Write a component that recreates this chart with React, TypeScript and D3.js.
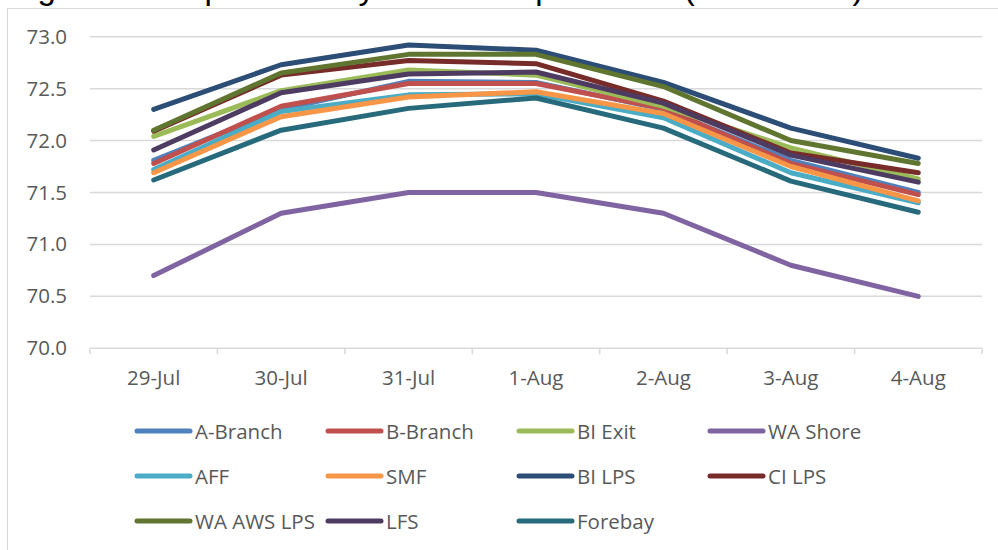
import React, { useEffect, useRef } from "react";
import * as d3 from "d3";

// categories on the x axis
const dates = ["29-Jul", "30-Jul", "31-Jul", "1-Aug", "2-Aug", "3-Aug", "4-Aug"];

// series values (deg F)
const aBranch = [71.81, 72.3, 72.57, 72.56, 72.3, 71.81, 71.5];
const bBranch = [71.78, 72.33, 72.55, 72.55, 72.31, 71.78, 71.48];
const biExit = [72.04, 72.48, 72.68, 72.63, 72.33, 71.93, 71.63];
const waShore = [70.7, 71.3, 71.5, 71.5, 71.3, 70.8, 70.5];
const aff = [71.72, 72.28, 72.44, 72.45, 72.22, 71.69, 71.4];
const smf = [71.69, 72.23, 72.42, 72.47, 72.26, 71.75, 71.42];
const biLps = [72.3, 72.73, 72.92, 72.87, 72.56, 72.12, 71.83];
const ciLps = [72.09, 72.63, 72.77, 72.74, 72.38, 71.88, 71.69];
const waAwsLps = [72.1, 72.65, 72.83, 72.83, 72.52, 72.0, 71.78];
const lfs = [71.91, 72.46, 72.64, 72.66, 72.36, 71.86, 71.6];
const forebay = [71.62, 72.1, 72.31, 72.41, 72.12, 71.61, 71.31];

const seriesNames = [
  "A-Branch", "B-Branch", "BI Exit", "WA Shore", "AFF", "SMF",
  "BI LPS", "CI LPS", "WA AWS LPS", "LFS", "Forebay",
];
const seriesValues = [
  aBranch, bBranch, biExit, waShore, aff, smf,
  biLps, ciLps, waAwsLps, lfs, forebay,
];
const seriesColors = [
  "#4f81bd", "#c0504d", "#9bbb59", "#8064a2", "#4bacc6", "#f79646",
  "#2c4d75", "#772c2a", "#5f7530", "#4d3b62", "#276a7c",
];

const yTicks = [70.0, 70.5, 71.0, 71.5, 72.0, 72.5, 73.0];

const FONT = "'Open Sans', 'Noto Sans', sans-serif";
const TEXT_COLOR = "#595959";
const GRID_COLOR = "#d9d9d9";

export default function App() {
  const svgRef = useRef<SVGSVGElement>(null);

  useEffect(() => {
    const svg = d3.select(svgRef.current);
    svg.selectAll("*").remove();

    const width = 998;
    const height = 550;
    const plot = { left: 90, right: 982, top: 36.7, bottom: 348.3 };

    // cut-off caption above the chart frame
    svg.append("text")
      .attr("x", 10)
      .attr("y", -1)
      .style("font-family", "'Liberation Sans', Arial, sans-serif")
      .style("font-size", "33px")
      .attr("fill", "#000")
      .text("Figure 4. Graph of 7-Day Water temperatures (Fahrenheit)");

    // chart frame
    svg.append("rect")
      .attr("x", 7.5)
      .attr("y", 8.5)
      .attr("width", width + 20)
      .attr("height", height + 20)
      .attr("fill", "#fff")
      .attr("stroke", GRID_COLOR)
      .attr("stroke-width", 1);

    const x = d3.scaleBand()
      .domain(dates)
      .range([plot.left, plot.right]);

    const y = d3.scaleLinear()
      .domain([70, 73])
      .range([plot.bottom, plot.top]);

    const xc = (d: string) => (x(d) as number) + x.bandwidth() / 2;

    // gridlines
    svg.append("g")
      .selectAll("line")
      .data(yTicks.slice(1))
      .enter()
      .append("line")
      .attr("x1", plot.left)
      .attr("x2", plot.right)
      .attr("y1", d => y(d))
      .attr("y2", d => y(d))
      .attr("stroke", GRID_COLOR)
      .attr("stroke-width", 1.5);

    // y labels
    svg.append("g")
      .selectAll("text")
      .data(yTicks)
      .enter()
      .append("text")
      .attr("x", 67)
      .attr("y", d => y(d) + 7)
      .attr("text-anchor", "end")
      .style("font-family", FONT)
      .style("font-size", "20.5px")
      .attr("fill", TEXT_COLOR)
      .text(d => d.toFixed(1));

    // x axis
    const xAxis = d3.axisBottom(x).tickSize(0).tickPadding(0);
    const xAxisGroup = svg.append("g")
      .attr("transform", `translate(0,${plot.bottom})`)
      .call(xAxis);
    xAxisGroup.select(".domain").remove();
    xAxisGroup.selectAll("text")
      .attr("y", 37)
      .attr("dy", null)
      .style("font-family", FONT)
      .style("font-size", "20.5px")
      .attr("fill", TEXT_COLOR);

    svg.append("line")
      .attr("x1", plot.left)
      .attr("x2", plot.right)
      .attr("y1", plot.bottom)
      .attr("y2", plot.bottom)
      .attr("stroke", GRID_COLOR)
      .attr("stroke-width", 1.5);

    const edges = [...dates.map(d => x(d) as number), plot.right];
    svg.append("g")
      .selectAll("line")
      .data(edges)
      .enter()
      .append("line")
      .attr("x1", d => d)
      .attr("x2", d => d)
      .attr("y1", plot.bottom)
      .attr("y2", plot.bottom + 6)
      .attr("stroke", GRID_COLOR)
      .attr("stroke-width", 1.5);

    // lines
    const line = d3.line<number>()
      .x((d, i) => xc(dates[i]))
      .y(d => y(d));

    svg.append("g")
      .selectAll("path")
      .data(seriesValues)
      .enter()
      .append("path")
      .attr("d", d => line(d))
      .attr("fill", "none")
      .attr("stroke", (d, i) => seriesColors[i])
      .attr("stroke-width", 5)
      .attr("stroke-linecap", "round")
      .attr("stroke-linejoin", "round");

    // legend, 4 columns
    const legend = svg.append("g");
    const items = legend.selectAll("g")
      .data(seriesNames)
      .enter()
      .append("g")
      .attr("transform", (d, i) => `translate(${137 + (i % 4) * 191},${431 + Math.floor(i / 4) * 45})`);

    items.append("line")
      .attr("x1", 0)
      .attr("x2", 53)
      .attr("y1", 0)
      .attr("y2", 0)
      .attr("stroke", (d, i) => seriesColors[i])
      .attr("stroke-width", 5)
      .attr("stroke-linecap", "round");

    items.append("text")
      .attr("x", 58)
      .attr("y", 7.5)
      .style("font-family", FONT)
      .style("font-size", "20.5px")
      .attr("fill", TEXT_COLOR)
      .text(d => d);
  }, []);

  return (
    <div style={{ position: "absolute", left: 0, top: 0 }}>
      <svg ref={svgRef} width={998} height={550} style={{ display: "block", background: "#fff" }}></svg>
    </div>
  );
}
